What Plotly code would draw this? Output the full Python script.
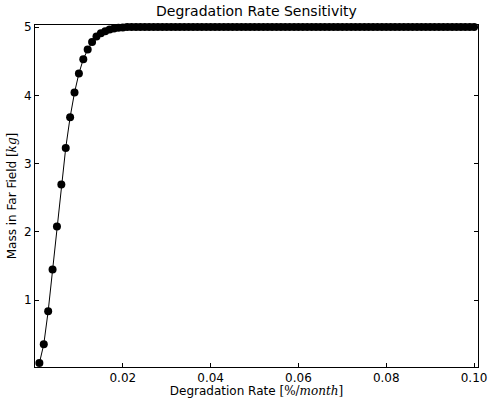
import numpy as np
import plotly.graph_objects as go

# Data
rate = [round(0.001 * i, 3) for i in range(1, 101)]
mass_head = [0.08, 0.355, 0.84, 1.45, 2.08, 2.695, 3.23, 3.68, 4.04, 4.32,
             4.53, 4.67, 4.78, 4.86, 4.91, 4.94, 4.965, 4.98, 4.99, 4.995]
mass = mass_head + [5.0] * (len(rate) - len(mass_head))

x_ticks = [0.02, 0.04, 0.06, 0.08, 0.10]
x_tick_text = ["0.02", "0.04", "0.06", "0.08", "0.10"]
y_ticks = [1, 2, 3, 4, 5]

font = "DejaVu Sans"

fig = go.Figure()
fig.add_trace(go.Scatter(
    x=rate, y=mass, mode="lines+markers",
    line=dict(color="black", width=1),
    marker=dict(color="black", size=8),
    showlegend=False, cliponaxis=False,
))

axis_common = dict(
    showgrid=False, zeroline=False, showline=True, linecolor="black", linewidth=1,
    mirror="ticks", ticks="inside", ticklen=4, tickwidth=1, tickcolor="black",
    tickfont=dict(family=font, size=12, color="black"), automargin=False,
)

fig.update_layout(
    width=489, height=398,
    margin=dict(l=35, r=11, t=25, b=31),
    paper_bgcolor="white", plot_bgcolor="white",
    font=dict(family=font, color="black"),
    title=dict(text="Degradation Rate Sensitivity", x=0.5245, xanchor="center",
               y=0.985, yanchor="top", font=dict(family=font, size=14, color="black")),
    xaxis=dict(range=[0, 0.1009], tickvals=x_ticks, ticktext=x_tick_text,
               title=dict(text="Degradation Rate <span style='font-family:DejaVu Serif'>[%/<i>month</i>]</span>",
                          font=dict(family=font, size=12, color="black"), standoff=2),
               **axis_common),
    yaxis=dict(range=[0.023, 5.03], tickvals=y_ticks,
               title=dict(text="Mass in Far Field <span style='font-family:DejaVu Serif'>[<i>kg</i>]</span>",
                          font=dict(family=font, size=12, color="black"), standoff=4),
               **axis_common),
)

fig.write_html("out.html", config={"displayModeBar": False},
               post_script="document.body.style.margin='0';document.body.style.overflow='hidden';")
